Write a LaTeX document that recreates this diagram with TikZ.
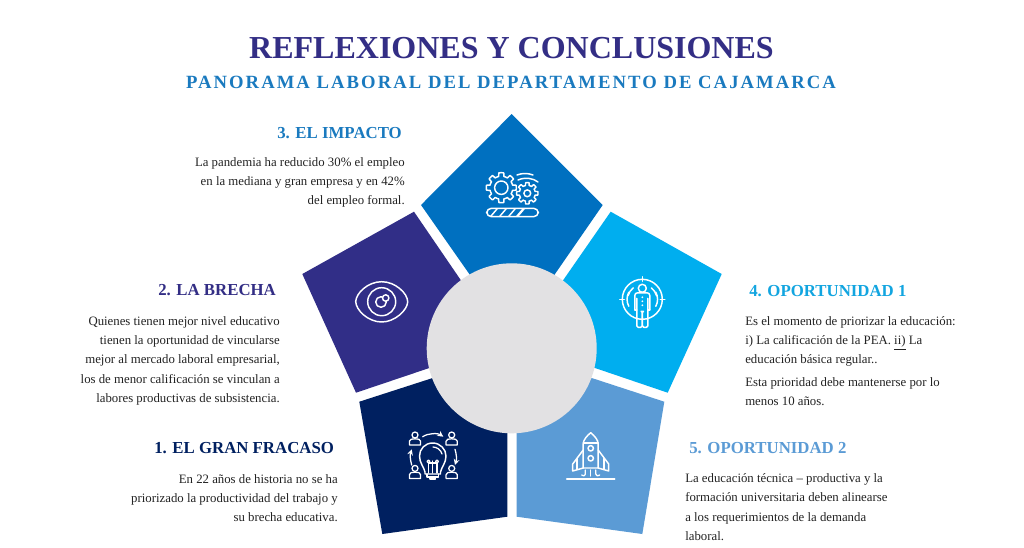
\documentclass[tikz,border=0pt]{standalone}
\usepackage{fontspec}
\setmainfont{Liberation Serif}
\newfontfamily\subfont[LetterSpace=11]{Liberation Serif}
\definecolor{cTitle}{HTML}{332E85}
\definecolor{cSub}{HTML}{1A7ABF}
\definecolor{cTop}{HTML}{0070C0}
\definecolor{cRight}{HTML}{00AEEF}
\definecolor{cHfour}{HTML}{12A5E0}
\definecolor{cLeft}{HTML}{312E87}
\definecolor{cBL}{HTML}{002060}
\definecolor{cBR}{HTML}{5B9BD5}
\definecolor{cDisc}{HTML}{E2E1E3}
\definecolor{cBody}{HTML}{222222}
\tikzset{
  head/.style={font=\bfseries\fontsize{12.6pt}{14pt}\selectfont,inner sep=0pt,anchor=west,text height=8.5pt,text depth=0pt},
  bodyL/.style={font=\fontsize{9.6pt}{11pt}\selectfont,text=cBody,inner sep=0pt,anchor=west,text height=8.6pt,text depth=2pt},
  bodyR/.style={font=\fontsize{9.6pt}{11pt}\selectfont,text=cBody,inner sep=0pt,anchor=east,text height=8.6pt,text depth=2pt},
  ico/.style={draw=white,line width=1.1pt,line cap=round,line join=round},
  icof/.style={draw=white,line width=.95pt,line cap=round,line join=round},
}
\newcommand{\gearpath}[5]{%
  plot[samples=193,domain=0:360,smooth] ({#1+(#4+(#3-#4)*max(0,min(1,2.2*cos(#5*\x)+.5)))*cos(\x)},{#2+(#4+(#3-#4)*max(0,min(1,2.2*cos(#5*\x)+.5)))*sin(\x)}) -- cycle}
\newcommand{\person}[2]{%
  \draw[icof] (#1,#2-3.6) circle (3);
  \draw[icof] (#1-5.6,#2+6.4) -- (#1-5.6,#2+2.6) .. controls (#1-5.6,#2+.6) and (#1-3,#2+.2) .. (#1,#2+.2) .. controls (#1+3,#2+.2) and (#1+5.6,#2+.6) .. (#1+5.6,#2+2.6) -- (#1+5.6,#2+6.4) -- cycle;}
\begin{document}
\begin{tikzpicture}[x=.75pt,y=-.75pt]
\useasboundingbox (0,0) rectangle (1024,547);
\fill[white] (0,0) rectangle (1024,547);

% petals
\fill[cTop] (511.7,114) -- (421,205) -- (469.3,274) -- (511.7,340) -- (555,274) -- (602.7,205) -- cycle;
\fill[cRight] (610.7,211.7) -- (721.7,274) -- (667.7,392.7) -- (595,368) -- (530,340) -- (563.3,280) -- cycle;
\fill[cLeft] (414,211.7) -- (302.3,274) -- (356,392.7) -- (429.3,368) -- (490,340) -- (460.7,280) -- cycle;
\fill[cBL] (359.3,401.7) -- (382.3,534) -- (507.3,516.7) -- (507.3,420) -- (432.7,378) -- cycle;
\fill[cBR] (664.3,401.7) -- (642.3,534) -- (516.7,516.7) -- (516.7,420) -- (591.7,378) -- cycle;
\fill[cDisc] (511.7,348.3) circle (85);

% titles
\node[inner sep=0pt,text=cTitle,font=\bfseries\fontsize{24pt}{28pt}\selectfont] (title) at (511.5,48) {REFLEXIONES Y CONCLUSIONES};
\node[inner sep=0pt,text=cSub,font=\subfont\bfseries\fontsize{14pt}{16pt}\selectfont] (subtitle) at (511,82) {PANORAMA LABORAL DEL DEPARTAMENTO DE CAJAMARCA};

% 3
\node[head,text=cSub] (h3) at (277,133) {3. EL IMPACTO};
\node[bodyR] (t3a) at (405,162) {La pandemia ha reducido 30\% el empleo};
\node[bodyR] (t3b) at (405,181) {en la mediana y gran empresa y en 42\%};
\node[bodyR] (t3c) at (405,200) {del empleo formal.};
% 2
\node[head,text=cTitle] (h2) at (158,290) {2. LA BRECHA};
\node[bodyR] (t2a) at (280,321) {Quienes tienen mejor nivel educativo};
\node[bodyR] (t2b) at (280,340) {tienen la oportunidad de vincularse};
\node[bodyR] (t2c) at (280,359.5) {mejor al mercado laboral empresarial,};
\node[bodyR] (t2d) at (280,379) {los de menor calificación se vinculan a};
\node[bodyR] (t2e) at (280,398) {labores productivas de subsistencia.};
% 1
\node[head,text=cBL] (h1) at (154,448) {1. EL GRAN FRACASO};
\node[bodyR] (t1a) at (338,479) {En 22 años de historia no se ha};
\node[bodyR] (t1b) at (338,498) {priorizado la productividad del trabajo y};
\node[bodyR] (t1c) at (338,517) {su brecha educativa.};
% 4
\node[head,text=cHfour] (h4) at (749,291) {4. OPORTUNIDAD 1};
\node[bodyL] (t4a) at (745,321) {Es el momento de priorizar la educación:};
\node[bodyL] (t4b) at (745,340) {i) La calificación de la PEA. \underline{ii)} La};
\node[bodyL] (t4c) at (745,359) {educación básica regular..};
\node[bodyL] (t4d) at (745,382) {Esta prioridad debe mantenerse por lo};
\node[bodyL] (t4e) at (745,401) {menos 10 años.};
% 5
\node[head,text=cBR] (h5) at (689,448) {5. OPORTUNIDAD 2};
\node[bodyL] (t5a) at (685,478) {La educación técnica -- productiva y la};
\node[bodyL] (t5b) at (685,497) {formación universitaria deben alinearse};
\node[bodyL] (t5c) at (685,517) {a los requerimientos de la demanda};
\node[bodyL] (t5d) at (685,536) {laboral.};

% icon: gears
\draw[ico] \gearpath{501.3}{187.7}{15}{11.5}{8};
\draw[ico] (501.3,187.7) circle (6.7);
\draw[ico] \gearpath{527.3}{193.3}{10.7}{8}{8};
\draw[ico] (527.3,193.3) circle (3.4);
\draw[ico] (517,175) .. controls (522,173) and (528,173) .. (533,175);
\draw[ico] (518,180) .. controls (525,177) and (533,178) .. (538,182);
\draw[ico,rounded corners=3.5pt] (486.7,208.3) rectangle (538.3,216.7);
\foreach \i in {0,1,2,3}{\draw[ico] (491+\i*9,216) -- (497+\i*9,209);}
\draw[ico] (517,216) -- (523,209);
% icon: eye
\draw[ico] (355.7,301.7) .. controls (356,293) and (368,281.7) .. (381.7,281.7) .. controls (395,281.7) and (407.5,293) .. (407.7,301.7) .. controls (407.5,310) and (395,322) .. (381.7,322) .. controls (368,322) and (356,310) .. (355.7,301.7) -- cycle;
\draw[ico] (381.7,301.7) circle (14);
\draw[ico] (381,302) circle (5.3);
\draw[ico,fill=cLeft] (385.7,298) circle (3.2);
% icon: person in target
\begin{scope}[shift={(642.3,299.3)}]
\draw[ico] (0,0) circle (20);
\draw[ico] (0,-22.5) -- (0,-18) (-22.5,0) -- (-18,0) (22.5,0) -- (18,0);
\draw[ico] (-13.5,7) arc (152:208:15);
\draw[ico] (-9,-11.5) arc (232:195:15);
\draw[ico] (13.5,7) arc (28:-28:15);
\draw[ico] (9,-11.5) arc (-52:-15:15);
\draw[ico,fill=cRight] (0,-11) circle (4);
\draw[ico,rounded corners=2pt] (-7.5,10.5) -- (-7.5,-6.5) -- (7.5,-6.5) -- (7.5,10.5);
\draw[ico,rounded corners=1pt] (-5.5,-1) -- (-5.5,28) -- (-.2,28) -- (-.2,12) -- (.2,12) -- (.2,28) -- (5.5,28) -- (5.5,-1);
\draw[ico] (-7.5,10.5) -- (-5.5,10.5) (7.5,10.5) -- (5.5,10.5);
\fill[white] (0,-2) circle (1) (0,2) circle (1) (0,6) circle (1);
\end{scope}
% icon: bulb and people
\person{415}{438.6}
\person{451.7}{438.6}
\person{415}{472}
\person{451.7}{472}
\draw[icof,->,>={stealth}] (422.7,436.7) .. controls (428,433) and (438,433) .. (443.3,436.7);
\draw[icof,->,>={stealth}] (411.7,465) .. controls (410,459) and (410,455) .. (411.7,449.3);
\draw[icof,->,>={stealth}] (455,449.3) .. controls (456.7,455) and (456.7,459) .. (455,465);
\draw[ico] (425,474) -- (425,472) .. controls (424,467) and (419.5,463) .. (419.5,456) .. controls (419.5,449) and (425,443) .. (432.7,443) .. controls (440,443) and (446,449) .. (446,456) .. controls (446,463) and (441.5,467) .. (440.5,472) -- (440.5,474) -- cycle;
\draw[icof] (427,474) -- (427,477) -- (438.5,477) -- (438.5,474);
\draw[icof] (430,477) -- (430,479) -- (435.5,479) -- (435.5,477);
\draw[icof] (432.7,473) -- (432.7,461) (428.5,473) -- (428.5,463) -- (437,463) -- (437,473);
\draw[icof] (428.5,461.5) circle (1.5) (437,461.5) circle (1.5);
\draw[icof] (433,447) .. controls (437,447) and (441,450) .. (442,454);
% icon: rocket
\begin{scope}[shift={(590.7,0)}]
\draw[ico] (0,432.7) .. controls (-4,436) and (-7.5,440) .. (-7.5,444) -- (-7.5,468) -- (7.5,468) -- (7.5,444) .. controls (7.5,440) and (4,436) .. (0,432.7) -- cycle;
\draw[ico] (-7.5,443) -- (7.5,443);
\draw[ico] (0,448.3) circle (2.7) (0,458.3) circle (2.7);
\draw[ico] (-7.5,450) -- (-18,464) -- (-18,471) -- (-7.5,468);
\draw[ico] (-13.5,458.5) -- (-13.5,469.5);
\draw[ico] (7.5,450) -- (18,464) -- (18,471) -- (7.5,468);
\draw[ico] (13.5,458.5) -- (13.5,469.5);
\draw[ico] (-24,479) -- (24,479);
\draw[icof] (-5.5,470) -- (-5.5,474.5) .. controls (-5.5,476) and (-8,476.5) .. (-9,475);
\draw[icof] (0,470) -- (0,476);
\draw[icof] (5,470) -- (5,474) .. controls (5,476) and (8,476.5) .. (9,475);
\end{scope}
\end{tikzpicture}
\end{document}
